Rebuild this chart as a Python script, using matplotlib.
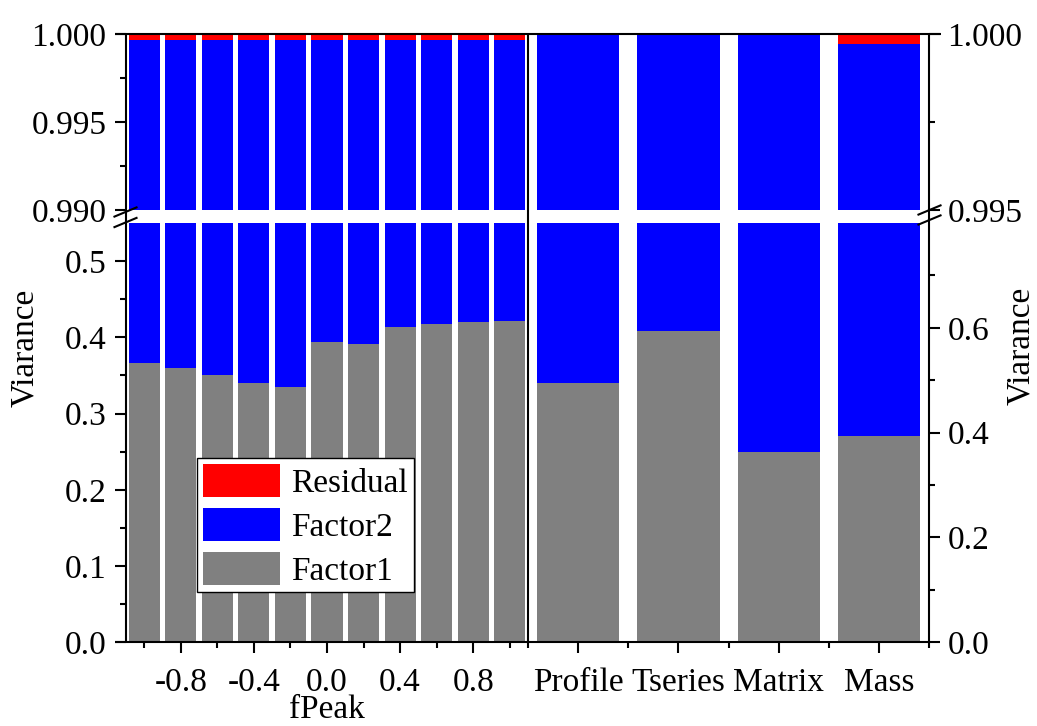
import numpy as np
import matplotlib
matplotlib.use("Agg")
import matplotlib.pyplot as plt
from matplotlib.lines import Line2D
from matplotlib.ticker import FixedLocator, FormatStrFormatter

plt.rcParams['font.family'] = ['Liberation Serif', 'DejaVu Serif']
plt.rcParams['font.size'] = 24
plt.rcParams['axes.unicode_minus'] = False

# data
fpeak = [-1.0, -0.8, -0.6, -0.4, -0.2, 0.0, 0.2, 0.4, 0.6, 0.8, 1.0]
fpeak_factor1 = [0.367, 0.360, 0.350, 0.340, 0.335, 0.394, 0.391, 0.414, 0.418, 0.420, 0.421]
fpeak_factor2 = [0.6327, 0.6397, 0.6497, 0.6597, 0.6647, 0.6057, 0.6087, 0.5857, 0.5817, 0.5797, 0.5787]
fpeak_residual = [0.0003, 0.0003, 0.0003, 0.0003, 0.0003, 0.0003, 0.0003, 0.0003, 0.0003, 0.0003, 0.0003]

methods = ['Profile', 'Tseries', 'Matrix', 'Mass']
method_factor1 = [0.495, 0.594, 0.363, 0.393]
method_factor2 = [0.505, 0.406, 0.637, 0.60672]
method_residual = [0.0, 0.0, 0.0, 0.00028]

c_f1, c_f2, c_res = '#808080', '#0000ff', '#ff0000'

W, H = 1037, 726
fig = plt.figure(figsize=(W / 100, H / 100), dpi=100)


def box(x0, y0, x1, y1):
    # pixel box (top-left origin) -> figure fraction rect
    return [x0 / W, 1 - y1 / H, (x1 - x0) / W, (y1 - y0) / H]


def fline(xs, ys):
    fig.add_artist(Line2D([x / W for x in xs], [1 - y / H for y in ys],
                          transform=fig.transFigure, color='k', lw=1.5,
                          solid_capstyle='butt'))


ax_tl = fig.add_axes(box(126, 34.3, 528, 210))
ax_bl = fig.add_axes(box(126, 223, 528, 642.3))
ax_tr = fig.add_axes(box(528, 34.3, 929.3, 210))
ax_br = fig.add_axes(box(528, 223, 929.3, 642.3))


def stack(ax, x, f1, f2, res, width):
    b1 = ax.bar(x, f1, width, color=c_f1, lw=0)
    b2 = ax.bar(x, f2, width, bottom=f1, color=c_f2, lw=0)
    bottom = np.array(f1) + np.array(f2)
    b3 = ax.bar(x, res, width, bottom=bottom, color=c_res, lw=0)
    return b1, b2, b3


for ax in (ax_tl, ax_bl):
    h1, h2, h3 = stack(ax, fpeak, fpeak_factor1, fpeak_factor2, fpeak_residual, 0.17)
    ax.set_xlim(-1.1, 1.1)
for ax in (ax_tr, ax_br):
    stack(ax, [1, 2, 3, 4], method_factor1, method_factor2, method_residual, 0.82)
    ax.set_xlim(0.5, 4.5)

ax_tl.set_ylim(0.990, 1.000)
ax_bl.set_ylim(0, 0.55)
ax_tr.set_ylim(0.995, 1.000)
ax_br.set_ylim(0, 0.8)

for ax in (ax_tl, ax_bl, ax_tr, ax_br):
    for s in ax.spines.values():
        s.set_visible(False)
    ax.patch.set_visible(False)
    ax.tick_params(which='both', direction='out', width=1.5)
    ax.tick_params(which='major', length=8)
    ax.tick_params(which='minor', length=4)

# y axes
ax_tl.yaxis.set_major_locator(FixedLocator([0.990, 0.995, 1.000]))
ax_tl.yaxis.set_minor_locator(FixedLocator([0.9925, 0.9975]))
ax_tl.yaxis.set_major_formatter(FormatStrFormatter('%.3f'))
ax_bl.yaxis.set_major_locator(FixedLocator([0.0, 0.1, 0.2, 0.3, 0.4, 0.5]))
ax_bl.yaxis.set_minor_locator(FixedLocator([0.05, 0.15, 0.25, 0.35, 0.45]))
ax_bl.yaxis.set_major_formatter(FormatStrFormatter('%.1f'))
for ax in (ax_tl, ax_bl):
    ax.tick_params(axis='y', which='both', left=True, right=False, pad=6)

ax_tr.yaxis.set_major_locator(FixedLocator([0.995, 1.000]))
ax_tr.yaxis.set_minor_locator(FixedLocator([0.9975]))
ax_tr.yaxis.set_major_formatter(FormatStrFormatter('%.3f'))
ax_br.yaxis.set_major_locator(FixedLocator([0.0, 0.2, 0.4, 0.6]))
ax_br.yaxis.set_minor_locator(FixedLocator([0.1, 0.3, 0.5, 0.7]))
ax_br.yaxis.set_major_formatter(FormatStrFormatter('%.1f'))
for ax in (ax_tr, ax_br):
    ax.yaxis.tick_right()
    ax.tick_params(axis='y', which='both', left=False, right=True, labelleft=False,
                   labelright=True, pad=5)

# x axes
for ax in (ax_tl, ax_tr):
    ax.tick_params(axis='x', which='both', bottom=False, labelbottom=False)
ax_bl.xaxis.set_major_locator(FixedLocator([-0.8, -0.4, 0.0, 0.4, 0.8]))
ax_bl.xaxis.set_minor_locator(FixedLocator([-1.0, -0.6, -0.2, 0.2, 0.6, 1.0]))
ax_bl.xaxis.set_major_formatter(FormatStrFormatter('%.1f'))
ax_br.set_xticks([1, 2, 3, 4])
ax_br.set_xticklabels(methods)
ax_br.xaxis.set_minor_locator(FixedLocator([0.5, 1.5, 2.5, 3.5, 4.5]))
for ax in (ax_bl, ax_br):
    ax.tick_params(axis='x', which='both', pad=10)

# frame lines drawn across the break
fline([115, 940.7], [34.3, 34.3])
fline([115, 929.3], [642.3, 642.3])
fline([126, 126], [34.3, 642.3])
fline([528, 528], [34.3, 642.3])
fline([929.3, 929.3], [34.3, 642.3])

# break marks
for cx, cy in [(125.5, 212), (125.5, 222.5), (929.5, 210), (929.5, 220)]:
    fline([cx - 12, cx + 12], [cy + 5, cy - 5])

fig.text(25 / W, 1 - 348 / H, 'Viarance', rotation=90, ha='center', va='center')
fig.text(1021 / W, 1 - 346 / H, 'Viarance', rotation=90, ha='center', va='center')
fig.text(327 / W, 0.5 / H, 'fPeak', ha='center', va='bottom')

leg = fig.legend([h3, h2, h1], ['Residual', 'Factor2', 'Factor1'],
                 loc='upper left', bbox_to_anchor=(197 / W, 1 - 458 / H),
                 borderaxespad=0, fancybox=False, framealpha=1,
                 edgecolor='k', handlelength=2.31, handleheight=1.17,
                 labelspacing=0.27, borderpad=0.17, handletextpad=0.35)
leg.get_frame().set_linewidth(1.0)

fig.savefig('out.png', dpi=100)
